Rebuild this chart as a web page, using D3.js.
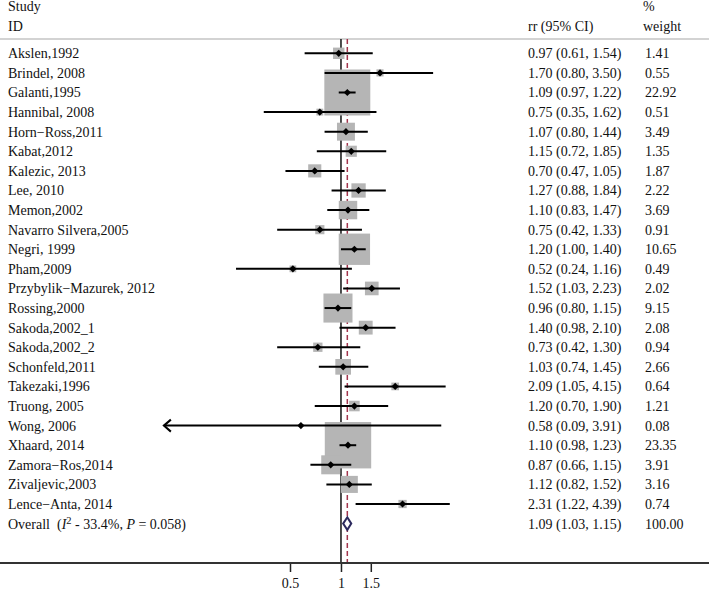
<!DOCTYPE html>
<html><head><meta charset="utf-8">
<script src="https://cdn.jsdelivr.net/npm/d3@7"></script>
<style>html,body{margin:0;padding:0;background:#fff;}svg{display:block;}</style>
</head><body>
<svg id="c" width="709" height="590"></svg>
<script>
const studies = ["Akslen,1992","Brindel, 2008","Galanti,1995","Hannibal, 2008","Horn\u2212Ross,2011","Kabat,2012","Kalezic, 2013","Lee, 2010","Memon,2002","Navarro Silvera,2005","Negri, 1999","Pham,2009","Przybylik\u2212Mazurek, 2012","Rossing,2000","Sakoda,2002_1","Sakoda,2002_2","Schonfeld,2011","Takezaki,1996","Truong, 2005","Wong, 2006","Xhaard, 2014","Zamora\u2212Ros,2014","Zivaljevic,2003","Lence\u2212Anta, 2014"];
const rr     = [0.97,1.70,1.09,0.75,1.07,1.15,0.70,1.27,1.10,0.75,1.20,0.52,1.52,0.96,1.40,0.73,1.03,2.09,1.20,0.58,1.10,0.87,1.12,2.31];
const lower  = [0.61,0.80,0.97,0.35,0.80,0.72,0.47,0.88,0.83,0.42,1.00,0.24,1.03,0.80,0.98,0.42,0.74,1.05,0.70,0.09,0.98,0.66,0.82,1.22];
const upper  = [1.54,3.50,1.22,1.62,1.44,1.85,1.05,1.84,1.47,1.33,1.40,1.16,2.23,1.15,2.10,1.30,1.45,4.15,1.90,3.91,1.23,1.15,1.52,4.39];
const weight = [1.41,0.55,22.92,0.51,3.49,1.35,1.87,2.22,3.69,0.91,10.65,0.49,2.02,9.15,2.08,0.94,2.66,0.64,1.21,0.08,23.35,3.91,3.16,0.74];
const overall = {rr:1.09, lower:1.03, upper:1.15, weight:100.00, i2:"33.4%", p:"0.058"};
const tickValues = [0.5, 1, 1.5];
const tickLabels = ["0.5","1","1.5"];
const axisMin = 0.1;

const svg = d3.select("#c");
const FONT = "Liberation Serif, Times New Roman, serif";
const FS = 14;

const x = d3.scaleLog().domain([0.5, 1.5]).range([290, 370.8]);
const rowIdx = d3.range(studies.length + 1);
const y = d3.scalePoint().domain(rowIdx).range([53.3, 523.6]);
const side = d3.scaleSqrt().domain([0, 23.35]).range([0, 46.4]);

const topY = 39, axisY = 563;

// header separator
svg.append("line").attr("x1",0).attr("x2",709).attr("y1",topY).attr("y2",topY)
  .attr("stroke","#c4c4c4").attr("stroke-width",1.5);

// headers
const hdr = [["Study",8,10.5],["ID",8,30.5],["rr (95% CI)",528,30.5],["%",643,10.5],["weight",643,30.5]];
svg.selectAll("text.hdr").data(hdr).join("text").attr("class","hdr")
  .attr("x",d=>d[1]).attr("y",d=>d[2]).text(d=>d[0])
  .attr("font-family",FONT).attr("font-size",FS).attr("fill","#111");

// null line and overall line
svg.append("line").attr("x1",x(1)).attr("x2",x(1)).attr("y1",topY).attr("y2",axisY)
  .attr("stroke","#111").attr("stroke-width",1.5);
svg.append("line").attr("x1",x(overall.rr)).attr("x2",x(overall.rr)).attr("y1",topY).attr("y2",axisY)
  .attr("stroke","#a3354d").attr("stroke-width",1.5).attr("stroke-dasharray","5,3");

const data = studies.map((s,i)=>({s, rr:rr[i], lo:lower[i], hi:upper[i], w:weight[i], i}));

// boxes
svg.append("g").selectAll("rect").data(data).join("rect")
  .attr("x",d=>x(d.rr)-side(d.w)/2).attr("y",d=>y(d.i)-side(d.w)/2)
  .attr("width",d=>side(d.w)).attr("height",d=>side(d.w))
  .attr("fill","#b5b5b5");

// CI lines
svg.append("g").selectAll("line").data(data).join("line")
  .attr("x1",d=>x(Math.max(d.lo, 0.09))).attr("x2",d=>x(d.hi))
  .attr("y1",d=>y(d.i)).attr("y2",d=>y(d.i))
  .attr("stroke","#000").attr("stroke-width",2);

// arrows for clipped lower bounds
data.filter(d=>d.lo < axisMin).forEach(d=>{
  const ax = x(d.lo), ay = y(d.i);
  svg.append("path").attr("d",`M${ax+7},${ay-6}L${ax},${ay}L${ax+7},${ay+6}`)
    .attr("fill","none").attr("stroke","#000").attr("stroke-width",2);
});

// point estimates (small diamonds)
const r = 3.6;
svg.append("g").selectAll("path").data(data).join("path")
  .attr("d",d=>{const cx=x(d.rr), cy=y(d.i); return `M${cx-r},${cy}L${cx},${cy-r}L${cx+r},${cy}L${cx},${cy+r}Z`;})
  .attr("fill","#000");

// overall diamond
const oy = y(studies.length);
svg.append("path")
  .attr("d",`M${x(overall.lower)},${oy}L${x(overall.rr)},${oy-6.3}L${x(overall.upper)},${oy}L${x(overall.rr)},${oy+6.3}Z`)
  .attr("fill","#fff").attr("stroke","#2c2a5e").attr("stroke-width",2);

// study labels
const fmt = v=>v.toFixed(2);
svg.append("g").selectAll("text").data(data).join("text")
  .attr("x",8).attr("y",d=>y(d.i)+5).text(d=>d.s)
  .attr("font-family",FONT).attr("font-size",FS).attr("fill","#111");
svg.append("g").selectAll("text").data(data).join("text")
  .attr("x",528).attr("y",d=>y(d.i)+5).text(d=>`${fmt(d.rr)} (${fmt(d.lo)}, ${fmt(d.hi)})`)
  .attr("font-family",FONT).attr("font-size",FS).attr("fill","#111");
svg.append("g").selectAll("text").data(data).join("text")
  .attr("x",645).attr("y",d=>y(d.i)+5).text(d=>fmt(d.w))
  .attr("font-family",FONT).attr("font-size",FS).attr("fill","#111");

// overall row text
const ot = svg.append("text").attr("x",8).attr("y",oy+5)
  .attr("font-family",FONT).attr("font-size",FS).attr("fill","#111").attr("xml:space","preserve");
ot.append("tspan").text("Overall  (");
ot.append("tspan").attr("font-style","italic").text("I");
ot.append("tspan").attr("font-size",FS*0.75).attr("dy",-5).text("2");
ot.append("tspan").attr("dy",5).text(` - ${overall.i2}, `);
ot.append("tspan").attr("font-style","italic").text("P");
ot.append("tspan").text(` = ${overall.p})`);
svg.append("text").attr("x",528).attr("y",oy+5)
  .text(`${fmt(overall.rr)} (${fmt(overall.lower)}, ${fmt(overall.upper)})`)
  .attr("font-family",FONT).attr("font-size",FS).attr("fill","#111");
svg.append("text").attr("x",645).attr("y",oy+5).text(fmt(overall.weight))
  .attr("font-family",FONT).attr("font-size",FS).attr("fill","#111");

// axis
const axis = d3.axisBottom(x).tickValues(tickValues).tickFormat((d,i)=>tickLabels[i]).tickSize(9).tickPadding(6);
const ag = svg.append("g").attr("transform",`translate(0,${axisY})`).call(axis);
ag.select(".domain").remove();
ag.selectAll(".tick line").attr("stroke","#222").attr("stroke-width",1.5);
ag.selectAll(".tick text").attr("font-family",FONT).attr("font-size",FS).attr("fill","#111");
svg.append("line").attr("x1",0).attr("x2",709).attr("y1",axisY).attr("y2",axisY)
  .attr("stroke","#333").attr("stroke-width",2);
</script>
</body></html>
